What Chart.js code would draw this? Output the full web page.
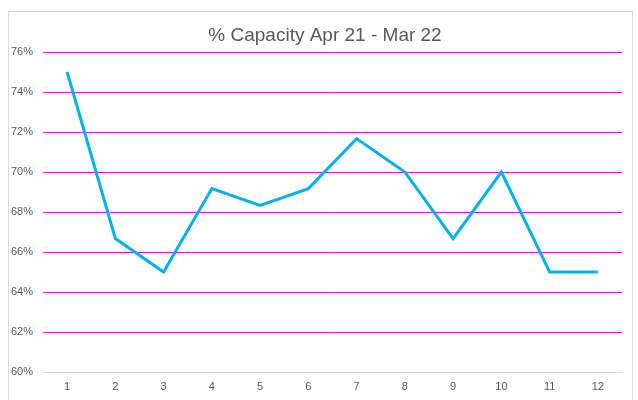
<!DOCTYPE html>
<html>
<head>
<meta charset="utf-8">
<script src="https://cdn.jsdelivr.net/npm/chart.js@4"></script>
<style>
  body { margin: 0; background: #fff; }
  #wrap { width: 638px; height: 400px; position: relative; }
</style>
</head>
<body>
<div id="wrap"><canvas id="chart"></canvas></div>
<script>
// data
const months = ['1', '2', '3', '4', '5', '6', '7', '8', '9', '10', '11', '12'];
const capacity = [75, 66.67, 65, 69.17, 68.33, 69.17, 71.67, 70, 66.67, 70, 65, 65];
const yTicks = [60, 62, 64, 66, 68, 70, 72, 74, 76];
const titleText = '% Capacity Apr 21 - Mar 22';

const fontFamily = "'Liberation Sans', Arial, sans-serif";

// light grey frame round the chart, title a little right of centre
const frame = {
    id: 'frame',
    beforeDraw(chart) {
        const ctx = chart.ctx;
        ctx.save();
        ctx.strokeStyle = '#d9d9d9';
        ctx.lineWidth = 1;
        ctx.strokeRect(8.5, 11.5, 624, 400);
        ctx.restore();
    },
    afterDraw(chart) {
        const ctx = chart.ctx;
        ctx.save();
        ctx.fillStyle = '#595959';
        ctx.font = '19px ' + fontFamily;
        ctx.textAlign = 'center';
        ctx.textBaseline = 'middle';
        ctx.fillText(titleText, 325, 36);
        ctx.restore();
    }
};

new Chart(document.getElementById('chart'), {
    type: 'line',
    data: {
        labels: months,
        datasets: [{
            data: capacity,
            borderColor: '#00b0f0',
            borderWidth: 3,
            pointRadius: 0,
            tension: 0
        }]
    },
    options: {
        responsive: true,
        maintainAspectRatio: false,
        animation: false,
        layout: { padding: { left: 0, right: 16, top: 52, bottom: 0 } },
        plugins: {
            legend: { display: false },
            tooltip: { enabled: false },
            title: { display: false }
        },
        scales: {
            x: {
                offset: true,
                grid: { display: false, drawTicks: false },
                border: { display: true, color: '#d9d9d9' },
                ticks: { color: '#595959', font: { family: fontFamily, size: 11 }, padding: 8 },
                afterFit(scale) { scale.height = 28; }
            },
            y: {
                min: 60,
                max: 76,
                afterBuildTicks(scale) { scale.ticks = yTicks.map(v => ({ value: v })); },
                grid: {
                    color: c => c.tick && c.tick.value === 60 ? 'rgba(0,0,0,0)' : '#ff10c8',
                    lineWidth: 1,
                    drawTicks: false
                },
                border: { display: false },
                ticks: {
                    color: '#595959',
                    font: { family: fontFamily, size: 11 },
                    padding: 10,
                    callback: v => v + '%'
                },
                afterFit(scale) { scale.width = 43; }
            }
        }
    },
    plugins: [frame]
});
</script>
</body>
</html>
